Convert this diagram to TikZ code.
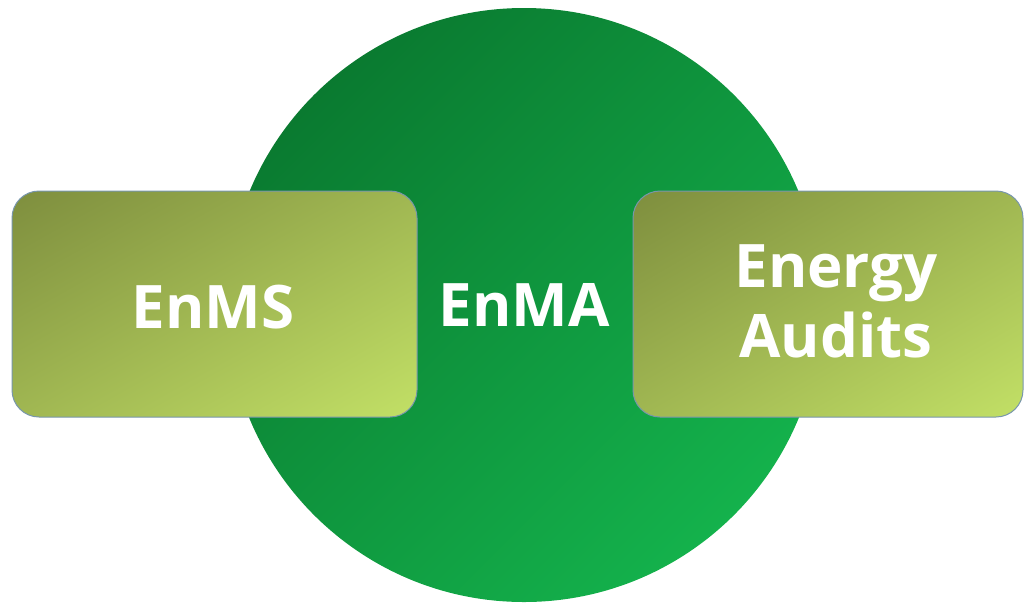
\documentclass[tikz,border=0pt]{standalone}
\usepackage{fontspec}
\setmainfont{Open Sans}
\usepackage{xcolor}
\definecolor{BoxEdge}{HTML}{7896AC}
% diagonal gradients, dark in the upper left corner
\pgfdeclarefunctionalshading{hubshade}{\pgfpoint{-50bp}{-50bp}}{\pgfpoint{50bp}{50bp}}{}{
  sub 35.36 add 70.71 div
  dup 0 lt {pop 0} if dup 1 gt {pop 1} if
  dup 0.039 mul 0.039 add exch
  dup 0.220 mul 0.478 add exch
  0.110 mul 0.188 add
}
\pgfdeclarefunctionalshading{pillarshade}{\pgfpoint{-50bp}{-50bp}}{\pgfpoint{50bp}{50bp}}{}{
  sub 50 add 100 div
  dup 0 lt {pop 0} if dup 1 gt {pop 1} if
  dup 0.267 mul 0.494 add exch
  dup 0.321 mul 0.557 add exch
  0.157 mul 0.243 add
}
\tikzset{
    hub/.style={circle,minimum size=594pt,inner sep=0pt,shading=hubshade},
    pillar/.style={rectangle,rounded corners=27pt,minimum height=226pt,
     inner sep=0pt,draw=BoxEdge,line width=1pt,shading=pillarshade},
    label/.style={text=white,inner sep=0pt,align=center,
     font=\bfseries\fontsize{60}{70}\selectfont}
}

\begin{document}
\begin{tikzpicture}[x=1pt,y=-1pt]
    \useasboundingbox (0,0) rectangle (1024,603);
    \node[hub] (enma) at (524,305) {};
    \node[pillar,minimum width=405pt] (enms) at (214.5,304) {};
    \node[pillar,minimum width=390pt] (audits) at (828,304) {};
    \node[label,anchor=base] (enmaText) at (524,326) {EnMA};
    \node[label,anchor=base] (enmsText) at (213,328) {EnMS};
    \node[label,anchor=north] (auditsText) at (836,244) {Energy\\Audits};
   \end{tikzpicture}
\end{document}
